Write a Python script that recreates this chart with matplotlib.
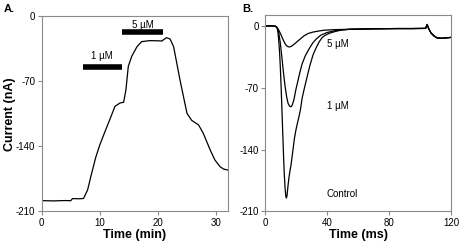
import matplotlib
matplotlib.use('Agg')
import matplotlib.pyplot as plt
import numpy as np

plt.rcParams['font.family'] = ['Liberation Sans Narrow', 'Liberation Sans', 'DejaVu Sans']
plt.rcParams['axes.unicode_minus'] = False

# panel A: current vs time (min)
time_a = [0, 2, 4, 5, 5.3, 6.5, 7.2, 7.9, 8.6, 9.3, 10.0, 10.9, 11.8, 12.6, 13.5, 14.1, 14.5,
          14.9, 15.5, 16.4, 17.2, 18.6, 20.0, 20.7, 20.9, 21.5, 22.1, 22.7, 23.8, 25.0, 25.8,
          27.0, 27.8, 29.0, 29.8, 30.7, 31.3, 32.0]
curr_a = [-198.5, -198.8, -198.4, -198.6, -196.3, -196.5, -196.2, -187, -169, -152, -138.5, -124,
          -110, -97, -93.3, -92.6, -79, -54, -43, -32.7, -27.3, -26.2, -26.4, -26.6, -25.5, -23,
          -24.5, -32.7, -68.6, -104.5, -112, -117, -126, -144, -154.7, -162, -164.5, -165.5]
bar_1uM = (7.05, 13.8, -55)
bar_5uM = (13.8, 20.9, -17)

# panel B: current vs time (ms)
tail_t = [55, 70, 85, 95, 103.5, 104.5, 105.5, 107, 109, 111, 114, 117, 120]
tail_i = [-3.8, -3.3, -3, -3, -2.8, 1.6, -3, -8, -11.5, -13.6, -14, -13.5, -13]

t_ctrl = [0, 5, 7, 8, 8.5, 9, 9.5, 10, 10.5, 11, 11.5, 12, 12.5, 13, 13.5, 13.9, 14.3, 14.8,
          15.5, 16.2, 16.9, 18, 19, 20, 21, 22.2, 23, 24, 25, 26.5, 28, 29, 31, 32.8, 35, 37,
          39, 42, 46, 50] + tail_t
i_ctrl = [0, 0, -0.5, -3, -8, -18, -30, -48, -70, -95, -120, -145, -167, -183, -193, -195, -192,
          -183, -172, -164, -157, -142, -128, -118, -110, -101, -94, -82, -74, -63, -52, -45, -33,
          -25.6, -18, -13, -10.5, -8, -6, -4.5] + tail_i
t_1uM = [0, 5, 7, 8, 9, 10, 11, 12, 13, 14, 15, 16, 16.9, 17.8, 18.8, 20, 21.2, 22.5, 24, 26,
         28.6, 31, 33, 36, 40, 45, 50] + tail_t
i_1uM = [0, 0, -0.5, -2, -8, -20, -36, -53, -68, -80, -88, -91, -91.6, -89, -83, -72, -63, -53,
         -43, -34, -25.6, -19, -15, -10.5, -7.5, -5.5, -4.5] + tail_i
t_5uM = [0, 5, 7, 8, 9, 10, 11, 12, 13, 14, 15, 16, 17, 18, 19.5, 21, 23, 25.4, 28, 31, 34, 38,
         45, 50] + tail_t
i_5uM = [0, 0, -0.5, -2, -5, -8.5, -12.5, -16.5, -20, -22.5, -23.6, -23.8, -23.2, -22, -19.8,
         -17.5, -14.5, -11, -8.5, -7, -6, -4.9, -4.2, -4] + tail_i
labels_b = ['5 µM', '1 µM', 'Control']
label_y = [-20, -91, -190]

fig = plt.figure(figsize=(4.59, 2.47), dpi=100)
ax1 = fig.add_axes([0.0908, 0.1445, 0.4052, 0.7895])
ax2 = fig.add_axes([0.577, 0.1445, 0.406, 0.7935])

def style(ax):
    for s in ax.spines.values():
        s.set_color('#8a8a8a')
        s.set_linewidth(0.8)
    ax.tick_params(direction='out', length=3, width=0.8, color='#8a8a8a', labelsize=7, pad=1.5)
    ax.set_yticks([0, -70, -140, -210])

ax1.plot(time_a, curr_a, color='black', lw=0.9)
ax1.plot(bar_1uM[:2], [bar_1uM[2]] * 2, color='black', lw=4, solid_capstyle='butt')
ax1.plot(bar_5uM[:2], [bar_5uM[2]] * 2, color='black', lw=4, solid_capstyle='butt')
ax1.text(sum(bar_1uM[:2]) / 2, -43, '1 µM', ha='center', va='center', fontsize=7)
ax1.text(sum(bar_5uM[:2]) / 2, -9, '5 µM', ha='center', va='center', fontsize=7)
ax1.set_xlim(0, 32)
ax1.set_ylim(-210, 0)
ax1.set_xticks([0, 10, 20, 30])
style(ax1)
ax1.set_xlabel('Time (min)', fontsize=9, fontweight='bold', family='Liberation Sans', labelpad=1)
ax1.set_ylabel('Current (nA)', fontsize=9, fontweight='bold', family='Liberation Sans')
ax1.yaxis.set_label_coords(-0.14, 0.5)

for t, i in [(t_ctrl, i_ctrl), (t_1uM, i_1uM), (t_5uM, i_5uM)]:
    ax2.plot(t, i, color='black', lw=0.9)
for lab, y in zip(labels_b, label_y):
    ax2.text(40, y, lab, ha='left', va='center', fontsize=7)
ax2.set_xlim(0, 120)
ax2.set_ylim(-210, 12)
ax2.set_xticks([0, 40, 80, 120])
style(ax2)
ax2.set_xlabel('Time (ms)', fontsize=9, fontweight='bold', family='Liberation Sans', labelpad=1)

fig.text(0.008, 0.965, 'A.', fontsize=8, fontweight='bold', family='Liberation Sans', va='center')
fig.text(0.527, 0.965, 'B.', fontsize=8, fontweight='bold', family='Liberation Sans', va='center')

fig.savefig('out.png', dpi=100)
